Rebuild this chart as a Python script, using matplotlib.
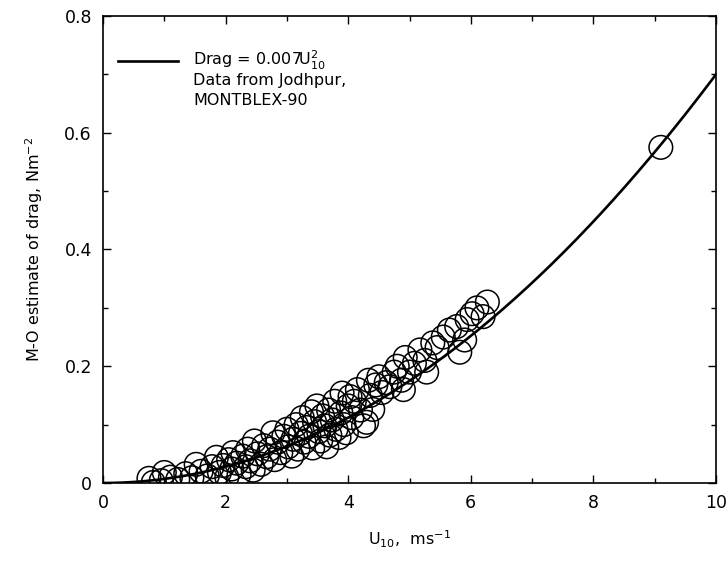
import numpy as np
import matplotlib
matplotlib.use("Agg")
import matplotlib.pyplot as plt
from matplotlib.lines import Line2D

plt.rcParams['font.family'] = ['DejaVu Sans']
plt.rcParams['mathtext.default'] = 'regular'

# Observed data (U10 in m/s, drag in N/m^2)
u10 = [0.75, 0.82, 0.95, 1.00, 1.10, 1.22, 1.35, 1.45, 1.52, 1.60, 1.70, 1.78, 1.85, 1.90, 1.96,
       2.02, 2.05, 2.10, 2.12, 2.18, 2.22, 2.28, 2.33, 2.36, 2.40, 2.45, 2.47, 2.52, 2.58, 2.62,
       2.67, 2.72, 2.77, 2.80, 2.85, 2.90, 2.95, 3.00, 3.02, 3.08, 3.10, 3.15, 3.18, 3.22, 3.25,
       3.28, 3.32, 3.36, 3.40, 3.42, 3.45, 3.49, 3.52, 3.55, 3.58, 3.62, 3.65, 3.68, 3.70, 3.74,
       3.78, 3.80, 3.85, 3.88, 3.90, 3.93, 3.97, 4.00, 4.03, 4.06, 4.10, 4.15, 4.20, 4.25, 4.30,
       4.33, 4.36, 4.40, 4.45, 4.50, 4.55, 4.62, 4.68, 4.75, 4.80, 4.87, 4.90, 4.93, 5.00, 5.08,
       5.17, 5.25, 5.28, 5.38, 5.45, 5.55, 5.65, 5.77, 5.82, 5.90, 5.94, 6.02, 6.10, 6.20, 6.27,
       9.10]
drag = [0.008, 0.001, 0.004, 0.018, 0.010, 0.006, 0.016, 0.009, 0.032, 0.020, 0.012, 0.028, 0.044, 0.018, 0.030,
        0.010, 0.040, 0.024, 0.052, 0.034, 0.015, 0.046, 0.028, 0.058, 0.038, 0.022, 0.072, 0.050, 0.032, 0.064,
        0.045, 0.058, 0.086, 0.040, 0.070, 0.052, 0.080, 0.092, 0.062, 0.046, 0.075, 0.100, 0.058, 0.085, 0.112,
        0.070, 0.095, 0.080, 0.122, 0.060, 0.105, 0.132, 0.088, 0.072, 0.115, 0.098, 0.062, 0.125, 0.082, 0.108,
        0.140, 0.092, 0.078, 0.120, 0.154, 0.100, 0.086, 0.132, 0.148, 0.112, 0.140, 0.160, 0.125, 0.098, 0.104,
        0.176, 0.150, 0.126, 0.168, 0.182, 0.155, 0.172, 0.165, 0.190, 0.200, 0.176, 0.160, 0.215, 0.190, 0.205,
        0.228, 0.210, 0.190, 0.240, 0.232, 0.250, 0.262, 0.268, 0.224, 0.245, 0.280, 0.290, 0.300, 0.285, 0.310,
        0.575]

coef = 0.007
x_ticks = [0, 2, 4, 6, 8, 10]
x_ticklabels = ["0", "2", "4", "6", "8", "10"]
y_ticks = [0, 0.2, 0.4, 0.6, 0.8]
y_ticklabels = ["0", "0.2", "0.4", "0.6", "0.8"]

fig = plt.figure(figsize=(7.28, 5.71), dpi=100)
ax = fig.add_axes([103/728, 88/571, 613/728, 467/571])

uc = np.linspace(0, 10, 300)
ax.plot(uc, coef * uc**2, color='black', lw=1.9, zorder=3)
ax.scatter(u10, drag, s=17**2, facecolors='none', edgecolors='black', linewidths=1.1, zorder=2)

ax.set_xlim(0, 10)
ax.set_ylim(0, 0.8)
ax.set_xticks(x_ticks)
ax.set_xticklabels(x_ticklabels)
ax.set_yticks(y_ticks)
ax.set_yticklabels(y_ticklabels)
ax.set_xticks(np.arange(0, 11, 1), minor=True)
ax.set_yticks(np.arange(0, 0.81, 0.1), minor=True)
ax.tick_params(which='both', direction='in', top=True, right=True, labelsize=12.5, width=1)
ax.tick_params(which='major', length=6)
ax.tick_params(which='minor', length=3.5)
ax.tick_params(axis='x', pad=8)
ax.tick_params(axis='y', pad=8)
for s in ax.spines.values():
    s.set_linewidth(1.2)

ax.set_xlabel("U$_{10}$,  ms$^{-1}$", fontsize=11.5, labelpad=12)
ax.set_ylabel("M-O estimate of drag, Nm$^{-2}$", fontsize=11.5, labelpad=14)

# legend-like annotation
ax.add_line(Line2D([0.025, 0.123], [0.904, 0.904], transform=ax.transAxes, color='black', lw=1.9))
ax.text(0.147, 0.904, "Drag = 0.007U$^{2}_{10}$", transform=ax.transAxes, fontsize=11.5, va='center')
ax.text(0.147, 0.862, "Data from Jodhpur,", transform=ax.transAxes, fontsize=11.5, va='center')
ax.text(0.147, 0.818, "MONTBLEX-90", transform=ax.transAxes, fontsize=11.5, va='center')

fig.savefig("out.png", dpi=100)
